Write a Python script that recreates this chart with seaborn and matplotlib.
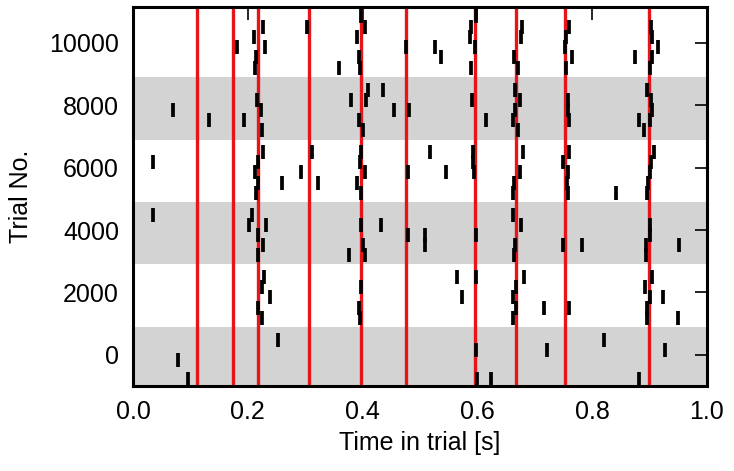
import numpy as np
import pandas as pd
import matplotlib
matplotlib.use("Agg")
import matplotlib.pyplot as plt
import seaborn as sns

trials = [10870, 10500, 10180, 9860, 9540, 9210,
          8490, 8170, 7850, 7530, 7210,
          6490, 6170, 5850, 5520, 5190,
          4480, 4160, 3840, 3520, 3200,
          2480, 2160, 1840, 1510, 1190,
          470, 150, -170, -780]

spike_times = [
    [0.397, 0.598],
    [0.227, 0.303, 0.404, 0.588, 0.678, 0.760, 0.902],
    [0.211, 0.390, 0.587, 0.676, 0.754, 0.904],
    [0.182, 0.230, 0.475, 0.527, 0.595, 0.753, 0.914],
    [0.215, 0.393, 0.536, 0.664, 0.764, 0.875, 0.904],
    [0.212, 0.359, 0.396, 0.588, 0.670, 0.754, 0.901],
    [0.409, 0.436, 0.666, 0.895],
    [0.216, 0.380, 0.406, 0.590, 0.675, 0.757, 0.902],
    [0.070, 0.223, 0.455, 0.481, 0.665, 0.758, 0.905],
    [0.133, 0.194, 0.393, 0.615, 0.662, 0.760, 0.881, 0.900],
    [0.224, 0.401, 0.670, 0.890],
    [0.227, 0.311, 0.398, 0.517, 0.592, 0.679, 0.760, 0.908],
    [0.035, 0.218, 0.396, 0.593, 0.749, 0.902],
    [0.213, 0.292, 0.405, 0.479, 0.545, 0.594, 0.675, 0.758, 0.900],
    [0.218, 0.260, 0.323, 0.391, 0.664, 0.756, 0.897],
    [0.215, 0.397, 0.662, 0.757, 0.842, 0.896],
    [0.035, 0.207, 0.662],
    [0.202, 0.232, 0.397, 0.432, 0.676, 0.901],
    [0.218, 0.479, 0.508, 0.598, 0.901],
    [0.226, 0.400, 0.508, 0.666, 0.750, 0.783, 0.894, 0.951],
    [0.218, 0.376, 0.405, 0.664, 0.893],
    [0.228, 0.564, 0.598, 0.681, 0.905],
    [0.225, 0.397, 0.667, 0.892],
    [0.238, 0.573, 0.662, 0.900, 0.924],
    [0.218, 0.393, 0.667, 0.716, 0.760, 0.896],
    [0.225, 0.396, 0.662, 0.895, 0.949],
    [0.252, 0.821],
    [0.598, 0.722, 0.927],
    [0.079],
    [0.096, 0.600, 0.623, 0.882],
]

# red event markers
event_times = [0.111, 0.175, 0.217, 0.307, 0.397, 0.476, 0.596, 0.667, 0.753, 0.899]

# shaded trial blocks (start, end)
band_starts = [-1100, 2900, 6900]
band_ends = [900, 4900, 8900]

df = pd.DataFrame({
    "time": [t for row in spike_times for t in row],
    "trial": [tr for tr, row in zip(trials, spike_times) for _ in row],
})

sns.set_style("white")
plt.rcParams["font.family"] = ["Liberation Sans", "DejaVu Sans"]
plt.rcParams.update({"text.color": "black", "axes.labelcolor": "black",
                     "xtick.color": "black", "ytick.color": "black"})

fig = plt.figure(figsize=(7.34, 4.71), dpi=100)
ax = fig.add_axes([0.1812, 0.1805, 0.782, 0.8046])

for lo, hi in zip(band_starts, band_ends):
    ax.axhspan(lo, hi, color="#d3d3d3", lw=0, zorder=0)

for t in event_times:
    ax.axvline(t, color="#e8141a", lw=2.4, zorder=2)

sns.scatterplot(data=df, x="time", y="trial", marker="|", s=92,
                linewidth=2.7, color="black", ax=ax, zorder=3, legend=False)

ax.set_xlim(0, 1)
ax.set_ylim(-1000, 11150)
ax.set_xticks(np.arange(0, 1.01, 0.2))
ax.set_yticks(np.arange(0, 10001, 2000))
ax.set_xlabel("Time in trial [s]", fontsize=18, labelpad=5)
ax.set_ylabel("Trial No.", fontsize=18, labelpad=12)
ax.tick_params(axis="both", direction="in", length=9, width=1.2,
               labelsize=18, top=True, right=True, pad=10)
for side in ax.spines.values():
    side.set_linewidth(2.2)
    side.set_color("black")
    side.set_zorder(5)

fig.savefig("out.png", dpi=100)
